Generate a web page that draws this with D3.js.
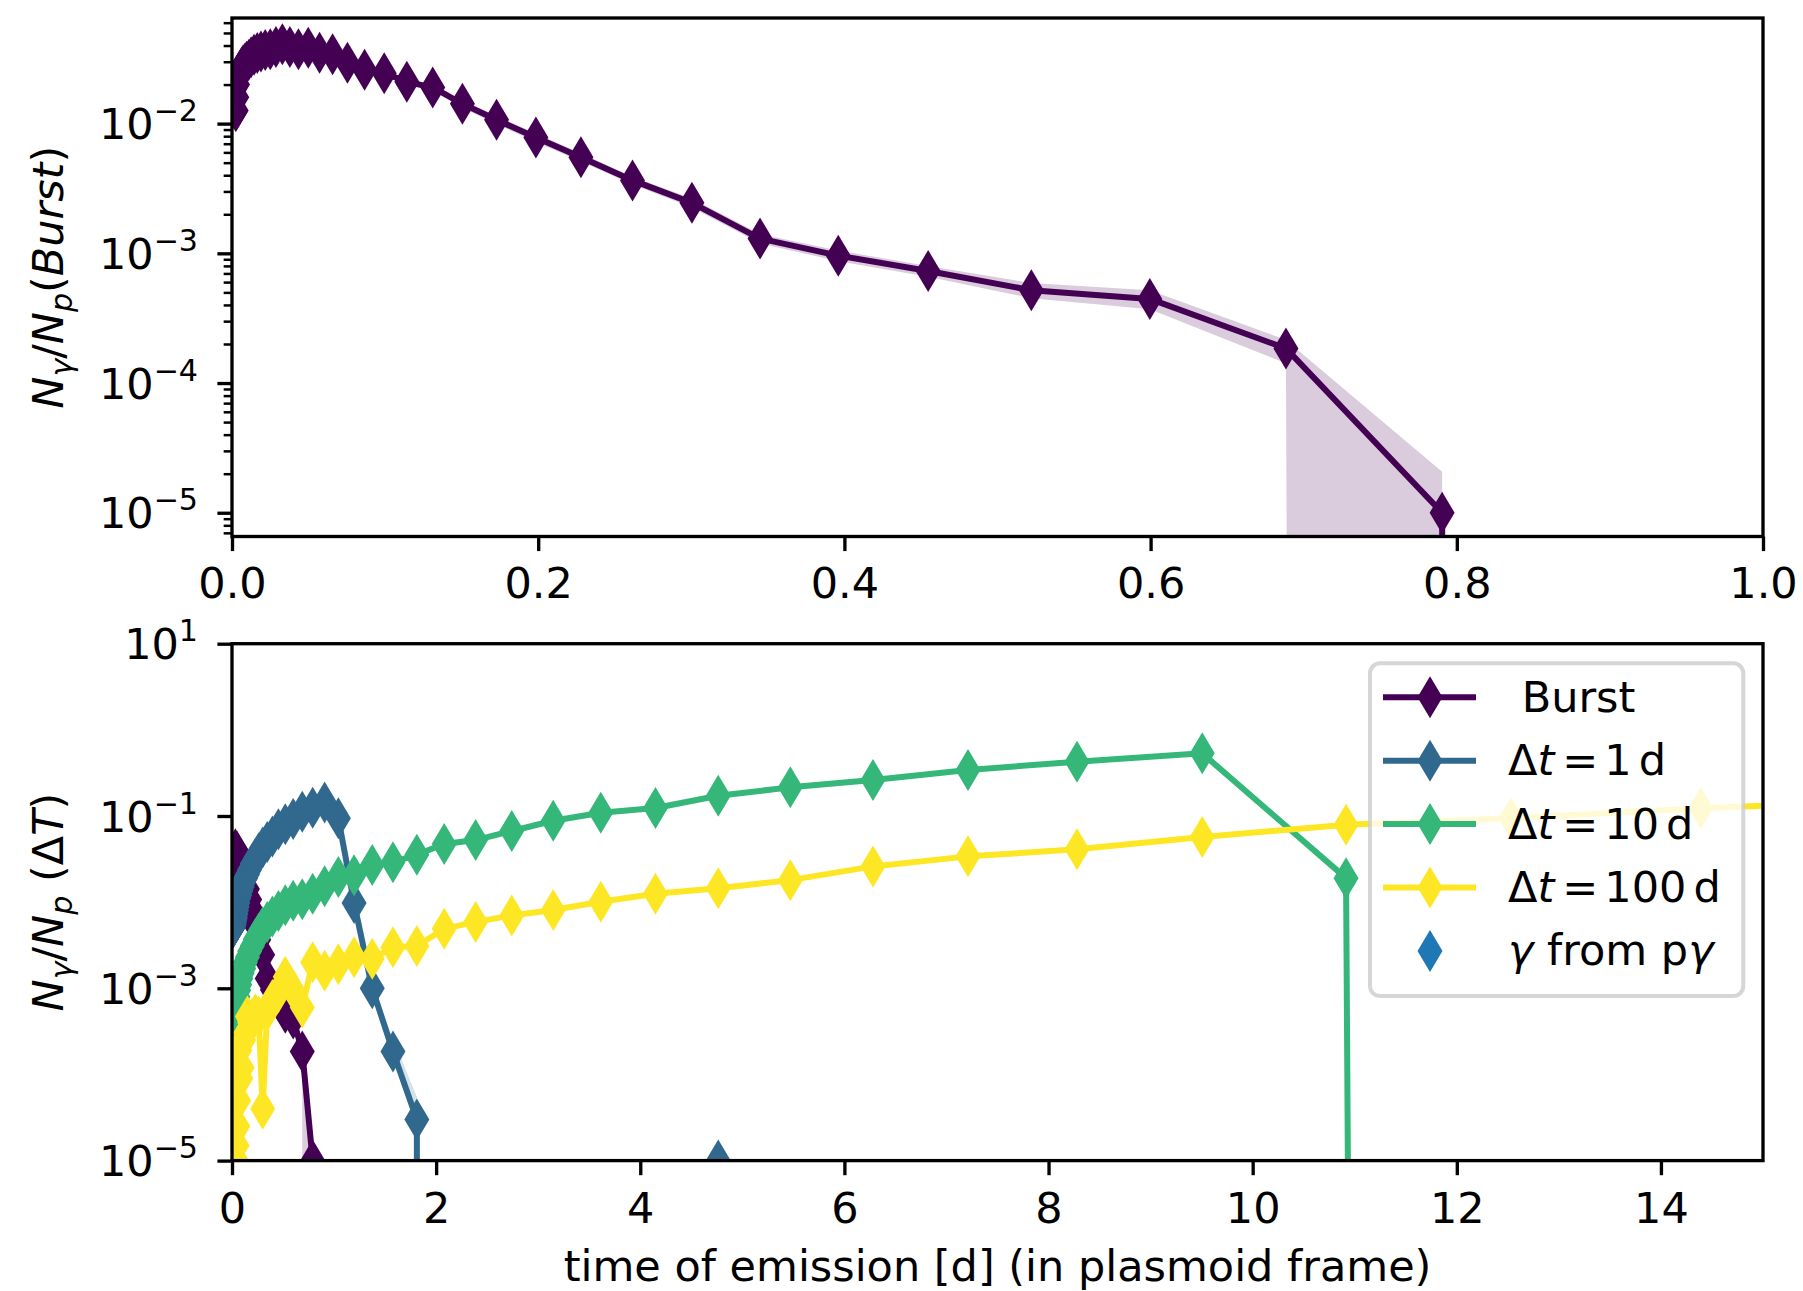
<!DOCTYPE html>
<html><head><meta charset="utf-8">
<script src="https://cdn.jsdelivr.net/npm/d3@7"></script>
<style>body{margin:0;background:#fff} svg text{font-family:"DejaVu Sans",sans-serif;white-space:pre}</style>
</head><body><svg id="c" width="1803" height="1291"></svg>
<script>
// ---------------- data ----------------
const times = [16.52,14.39,12.53,10.915,9.506,8.279,7.211,6.280,5.470,4.764,4.149,3.613,3.147,2.741,2.387,2.079,1.811,1.577,1.374,1.196,1.042,0.9075,0.7904,0.6884,0.5995,0.5221,0.4547,0.3960,0.3449,0.3004,0.2616,0.2279,0.1985,0.1728,0.1505,0.1311,0.1142,0.0994,0.0866,0.0754,0.0657,0.0572,0.0498,0.0434,0.0378,0.0329,0.0287,0.0250,0.0217,0.0189,0.0165,0.0144,0.0125,0.0109,0.0095,0.0083,0.0072,0.0063,0.0055,0.0048,0.0041,0.0036,0.0031,0.0027,0.0024];
const burst = [0,0,0,0,0,0,0,0,0,0,0,0,0,0,0,0,0,0,0,0,0,0,
  1.0e-5,1.85e-4,4.45e-4,5.2e-4,7.3e-4,9.6e-4,1.3e-3,2.45e-3,3.65e-3,5.5e-3,7.8e-3,1.07e-2,1.42e-2,1.9e-2,2.1e-2,2.45e-2,2.6e-2,2.95e-2,3.42e-2,3.52e-2,3.85e-2,3.75e-2,3.9e-2,4.1e-2,3.9e-2,3.75e-2,3.7e-2,3.6e-2,3.5e-2,3.4e-2,3.25e-2,3.1e-2,3.0e-2,2.9e-2,2.8e-2,2.7e-2,2.6e-2,2.5e-2,2.3e-2,2.0e-2,1.6e-2,1.26e-2,1.25e-2];
const dt1 = [0,0,0,0,0,0,0,0,0,1.0e-5,0,0,0,0,0,0,
  3.0e-5,1.85e-4,1.0e-3,9.8e-3,0.094,0.143,0.125,0.112,0.092,0.08,0.07,0.058,0.05,0.043,0.037,0.032,0.028,0.024,0.021,0.019,0.017,0.015,0.0135,0.012,0.011,0.0098,0.0088,0.008,0.0073,0.0067,0.0063,0.006,0.0057,0.0055,0.0054,0.0053,0.0052,0.0052,0.0051,0.0051,0.005,0.005,0.005,0.005,0.005,0.005,0.005,0.005,0.005];
const dt10 = [0,0,0,0.019,0.534,0.427,0.342,0.262,0.215,0.172,0.124,0.109,0.088,0.067,0.0526,0.0473,0.0356,0.029,0.027,0.0205,0.0196,0.0153,0.0125,0.0108,0.0104,0.0092,0.0079,0.0068,0.0059,0.0051,0.0043,0.0037,0.0031,0.0027,0.0023,0.0020,0.0017,0.0015,0.0013,0.0011,0.00095,0.0008,0.00068,0.00057,0.00048,0.0004,0.00033,0.00027,0.00022,0.00018,0.00016,0.00015,0.00015,0.00015,0.00015,0.00015,0.00015,0.00015,0.00015,0.00015,0.00015,0.00015,0.00015,0.00015,0.00015];
const dt100 = [0.155,0.123,0.094,0.079,0.057,0.041,0.034,0.026,0.018,0.0145,0.0125,0.0101,0.0081,0.0070,0.0059,0.0049,0.0031,0.0030,0.0022,0.0023,0.0019,0.0016,0.0020,0.0006,0.00095,0.00136,0.0009,0.00073,0.00055,0.00004,0.00047,0.0005,0.00045,0.0004,0.00047,0.0003,0.00025,0.00012,0.00009,0.00019,0.00005,0.000025,0.000015,0.00001,
  0,0,0,0,0,0,0,0,0,0,0,0,0,0,0,0,0,0,0,0,0];
const pgTimes = [];   // "γ from pγ": no point inside the plotted range
const pgValues = [];
// uncertainty bands
const burstBandT  = [0.1505,0.1728,0.1985,0.2279,0.2616,0.3004,0.3449,0.3960,0.4547,0.5221,0.5995,0.6884,0.7904];
const burstBandLo = [0.0132,0.0099,0.0072,0.0051,0.0034,0.00226,0.00119,0.00087,0.00066,0.00045,0.00037,0.000142,0];
const burstBandHi = [0.0152,0.0115,0.0084,0.0059,0.0039,0.00265,0.00141,0.00105,0.00080,0.00059,0.00052,0.000215,0.0000207];
const dt1BandT  = [1.042,1.196,1.374,1.577,1.811,2.079,4.149,4.764,5.470];
const dt1BandLo = [0.088,0.0092,0.00093,0.00017,0.000026,0,0,0,0];
const dt1BandHi = [0.100,0.0105,0.00112,0.00026,0.000055,0,0,0.0000135,0];
// ticks
const topXTicks = [0,0.2,0.4,0.6,0.8,1.0];
const topYExps = [-2,-3,-4,-5];
const botXTicks = [0,2,4,6,8,10,12,14];
const botYExps = [1,-1,-3,-5];
const legendLabels = ["Burst","Δt = 1 d","Δt = 10 d","Δt = 100 d","γ from pγ"];

// ---------------- layout ----------------
const W=1803,H=1291,FS=43;
const L=232,R=1763,T1=18,B1=536.5,T2=643.7,B2=1160.6;
const col = {burst:'#440154',d1:'#31688e',d10:'#35b779',d100:'#fde725',pg:'#1f77b4'};
const svg=d3.select('#c');
svg.append('rect').attr('width',W).attr('height',H).attr('fill','#fff');
const defs=svg.append('defs');
defs.append('clipPath').attr('id','clip1').append('rect').attr('x',L).attr('y',T1).attr('width',R-L).attr('height',B1-T1);
defs.append('clipPath').attr('id','clip2').append('rect').attr('x',L).attr('y',T2).attr('width',R-L).attr('height',B2-T2);

const x1=d3.scaleLinear().domain([0,1]).range([L,R]);
const y1=d3.scaleLog().domain([6.56e-6,0.0652]).range([B1,T1]);
const x2=d3.scaleLinear().domain([0,15]).range([L,R]);
const y2=d3.scaleLog().domain([1e-5,10]).range([B2,T2]);

const diamond='M0,-21L12.5,0L0,21L-12.5,0Z';
function Yf(ys){return v=>v>0?ys(v):ys(1e-300);}

function band(g,xs,ys,t,lo,hi,color){
  const Y=Yf(ys);
  const d=t.map((tt,i)=>({t:tt,lo:lo[i],hi:hi[i]}));
  g.append('path').attr('d',d3.area().x(p=>xs(p.t)).y0(p=>Y(p.lo)).y1(p=>Y(p.hi))(d))
    .attr('fill',color).attr('fill-opacity',0.2).attr('stroke','none');
}
function series(g,xs,ys,t,v,color){
  const Y=Yf(ys);
  const pts=t.map((tt,i)=>[tt,v[i]]);
  g.append('path').attr('d',d3.line().x(p=>xs(p[0])).y(p=>Y(p[1]))(pts))
    .attr('fill','none').attr('stroke',color).attr('stroke-width',6).attr('stroke-linejoin','round');
  g.selectAll(null).data(pts.filter(p=>p[1]>0)).enter().append('path')
    .attr('d',diamond).attr('transform',p=>`translate(${xs(p[0])},${ys(p[1])})`).attr('fill',color);
}
function mathText(sel,parts,fs){
  let cur=0;
  parts.forEach(p=>{
    const shift=p.sub?0.2*fs:(p.sup?-0.42*fs:0);
    const ts=sel.append('tspan').text(p.t);
    if(p.it) ts.attr('font-style','italic');
    if(p.sub||p.sup) ts.attr('font-size',fs*0.7);
    if(p.dx) ts.attr('dx',p.dx);
    if(shift!==cur){ts.attr('dy',shift-cur);cur=shift;}
  });
}
function styleAxis(g,w){g.select('.domain').remove();g.selectAll('.tick line').attr('stroke','#000').attr('stroke-width',w);}

// ---------------- top panel ----------------
const p1=svg.append('g');
const d1=p1.append('g').attr('clip-path','url(#clip1)');
band(d1,x1,y1,burstBandT,burstBandLo,burstBandHi,col.burst);
series(d1,x1,y1,times,burst,col.burst);

const gx1=p1.append('g').attr('transform',`translate(0,${B1})`)
  .call(d3.axisBottom(x1).tickValues(topXTicks).tickSize(14.6).tickPadding(16.8).tickFormat(d3.format('.1f')));
styleAxis(gx1,3.33);
gx1.selectAll('.tick text').attr('font-size',FS).attr('fill','#000').attr('font-family','DejaVu Sans');

const topMinor=[];
[-6,-5,-4,-3,-2].forEach(e=>{for(let m=2;m<=9;m++){const v=m*Math.pow(10,e);if(v>=y1.domain()[0]&&v<=y1.domain()[1])topMinor.push(v);}});
const gy1m=p1.append('g').attr('transform',`translate(${L},0)`).call(d3.axisLeft(y1).tickValues(topMinor).tickSize(8.33).tickFormat(''));
styleAxis(gy1m,2.5);
const gy1=p1.append('g').attr('transform',`translate(${L},0)`).call(d3.axisLeft(y1).tickValues(topYExps.map(e=>Math.pow(10,e))).tickSize(14.6).tickFormat(''));
styleAxis(gy1,3.33);
topYExps.forEach(e=>{
  const t=p1.append('text').attr('x',198).attr('y',y1(Math.pow(10,e))+0.3645*FS).attr('text-anchor','end').attr('font-size',FS);
  mathText(t,[{t:'10'},{t:(e<0?'−':'')+Math.abs(e),sup:1}],FS);
});
p1.append('rect').attr('x',L).attr('y',T1).attr('width',R-L).attr('height',B1-T1).attr('fill','none').attr('stroke','#000').attr('stroke-width',3.33);
{
  const t=p1.append('text').attr('transform',`translate(63,${(T1+B1)/2}) rotate(-90)`).attr('text-anchor','middle').attr('font-size',FS);
  mathText(t,[{t:'N',it:1},{t:'γ',it:1,sub:1},{t:'/'},{t:'N',it:1},{t:'p',it:1,sub:1},{t:'('},{t:'Burst',it:1},{t:')'}],FS);
}

// ---------------- bottom panel ----------------
const p2=svg.append('g');
const d2=p2.append('g').attr('clip-path','url(#clip2)');
band(d2,x2,y2,burstBandT,burstBandLo,burstBandHi,col.burst);
band(d2,x2,y2,dt1BandT,dt1BandLo,dt1BandHi,col.d1);
series(d2,x2,y2,times,burst,col.burst);
series(d2,x2,y2,times,dt1,col.d1);
series(d2,x2,y2,times,dt10,col.d10);
series(d2,x2,y2,times,dt100,col.d100);
series(d2,x2,y2,pgTimes,pgValues,col.pg);

const gx2=p2.append('g').attr('transform',`translate(0,${B2})`)
  .call(d3.axisBottom(x2).tickValues(botXTicks).tickSize(14.6).tickPadding(16.8).tickFormat(d3.format('d')));
styleAxis(gx2,3.33);
gx2.selectAll('.tick text').attr('font-size',FS).attr('fill','#000').attr('font-family','DejaVu Sans');
const gy2=p2.append('g').attr('transform',`translate(${L},0)`).call(d3.axisLeft(y2).tickValues(botYExps.map(e=>Math.pow(10,e))).tickSize(14.6).tickFormat(''));
styleAxis(gy2,3.33);
botYExps.forEach(e=>{
  const t=p2.append('text').attr('x',198).attr('y',y2(Math.pow(10,e))+0.3645*FS).attr('text-anchor','end').attr('font-size',FS);
  mathText(t,[{t:'10'},{t:(e<0?'−':'')+Math.abs(e),sup:1}],FS);
});
p2.append('rect').attr('x',L).attr('y',T2).attr('width',R-L).attr('height',B2-T2).attr('fill','none').attr('stroke','#000').attr('stroke-width',3.33);
{
  const t=p2.append('text').attr('transform',`translate(63,${(T2+B2)/2}) rotate(-90)`).attr('text-anchor','middle').attr('font-size',FS);
  mathText(t,[{t:'N',it:1},{t:'γ',it:1,sub:1},{t:'/'},{t:'N',it:1},{t:'p',it:1,sub:1},{t:' ('},{t:'Δ'},{t:'T',it:1},{t:')'}],FS);
}
p2.append('text').attr('x',(L+R)/2).attr('y',1280.5).attr('text-anchor','middle').attr('font-size',FS).text('time of emission [d] (in plasmoid frame)');

// ---------------- legend ----------------
const lg=svg.append('g');
lg.append('rect').attr('x',1370).attr('y',663.3).attr('width',373.3).attr('height',332.7).attr('rx',10)
  .attr('fill','#fff').attr('fill-opacity',0.8).attr('stroke','#ccc').attr('stroke-opacity',0.8).attr('stroke-width',4);
const legColors=[col.burst,col.d1,col.d10,col.d100,col.pg];
const legParts=[
  [{t:' Burst'}],
  [{t:'Δ'},{t:'t',it:1},{t:'=',dx:8},{t:'1',dx:6},{t:'d',dx:7}],
  [{t:'Δ'},{t:'t',it:1},{t:'=',dx:8},{t:'10',dx:6},{t:'d',dx:7}],
  [{t:'Δ'},{t:'t',it:1},{t:'=',dx:8},{t:'100',dx:6},{t:'d',dx:7}],
  [{t:'γ',it:1},{t:' from p'},{t:'γ',it:1}]
];
legendLabels.forEach((lab,i)=>{
  const cy=697.3+i*63.4;
  const g=lg.append('g').attr('aria-label',lab);
  if(i<4) g.append('line').attr('x1',1383).attr('x2',1476).attr('y1',cy).attr('y2',cy).attr('stroke',legColors[i]).attr('stroke-width',6);
  g.append('path').attr('d',diamond).attr('transform',`translate(1430,${cy})`).attr('fill',legColors[i]);
  const t=g.append('text').attr('x',1508).attr('y',cy+14.5).attr('font-size',FS);
  mathText(t,legParts[i],FS);
});
</script></body></html>
